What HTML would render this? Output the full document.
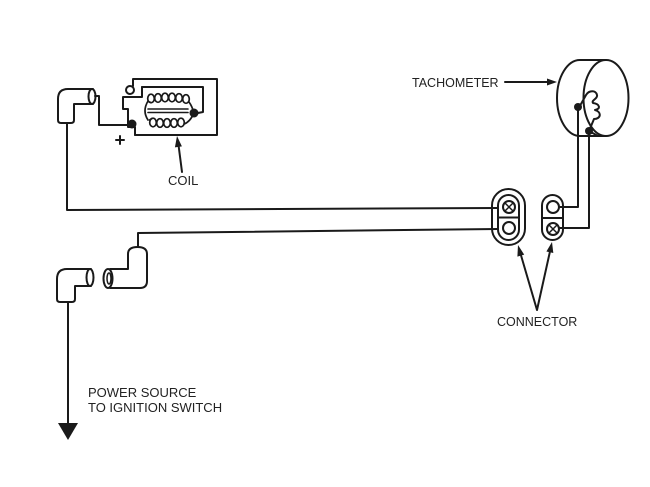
<!DOCTYPE html>
<html><head><meta charset="utf-8"><style>
html,body{margin:0;padding:0;background:#fff;}
svg{display:block;}
text{font-family:"Liberation Sans",sans-serif;fill:#222;}
</style></head><body>
<svg width="650" height="487" viewBox="0 0 650 487" xmlns="http://www.w3.org/2000/svg">
<rect width="650" height="487" fill="#fff"/>
<g fill="none" stroke="#1a1a1a" stroke-width="2" stroke-linejoin="round" stroke-linecap="round">
  <!-- top-left plug -->
  <path d="M93,89 L68,89 Q58,89 58,99 L58,120 Q58,123 61,123 L71,123 Q74,123 74,120 L74,104 L93,104"/>
  <ellipse cx="92" cy="96.5" rx="3.5" ry="7.5"/>
  <path d="M67,123 L67,210 L498,208"/>
  <path d="M95,96 L99,96 L99,125 L128,125"/>
  <!-- coil -->
  <path d="M133,86 L133,79 L217,79 L217,135 L135,135"/>
  <circle cx="130" cy="90" r="4"/>
  <path d="M142,87 L142,97 L123,97 L123,109 L128,109 L128,127 L135,127 L135,135"/>
  <path d="M142,87 L203,87 L203,112 L198,113"/>
  <g stroke-width="1.7">
    <ellipse cx="151" cy="98.5" rx="3.3" ry="4.3"/>
    <ellipse cx="158" cy="98" rx="3.3" ry="4.3"/>
    <ellipse cx="165" cy="97.5" rx="3.3" ry="4.3"/>
    <ellipse cx="172" cy="97.5" rx="3.3" ry="4.3"/>
    <ellipse cx="179" cy="98" rx="3.3" ry="4.3"/>
    <ellipse cx="186" cy="99" rx="3.3" ry="4.3"/>
    <ellipse cx="153" cy="122.5" rx="3.3" ry="4.3"/>
    <ellipse cx="160" cy="123" rx="3.3" ry="4.3"/>
    <ellipse cx="167" cy="123" rx="3.3" ry="4.3"/>
    <ellipse cx="174" cy="123" rx="3.3" ry="4.3"/>
    <ellipse cx="181" cy="122.5" rx="3.3" ry="4.3"/>
    <path d="M148,101 Q142,111 148,120 M189,102 Q192,106 194,113 M184,124 Q190,122 194,113"/>
    <path d="M148,101.5 L151,102.5 M149.5,120 L152,118.5"/>
  </g>
  <path d="M148,109 L188,109 M148,112.5 L188,112.5" stroke-width="1.6"/>
  <path d="M116,140 L124,140 M120,136 L120,144"/>
  <path d="M182,172 L178.5,145"/>
  <!-- lower wire & plugs -->
  <path d="M498,229 L138,233 L138,247"/>
  <path d="M110,269 L128,269 L128,254 Q128,247 137.5,247 Q147,247 147,254 L147,281 Q147,288 140,288 L110,288"/>
  <ellipse cx="108" cy="278.5" rx="4.5" ry="9.5"/>
  <ellipse cx="109" cy="278.5" rx="2" ry="5.5" stroke-width="1.5"/>
  <path d="M91,269 L67,269 Q57,269 57,279 L57,299 Q57,302 60,302 L72,302 Q75,302 75,299 L75,286 L91,286"/>
  <ellipse cx="90" cy="277.5" rx="3.5" ry="8.5"/>
  <path d="M68,302 L68,424"/>
  <!-- connectors -->
  <rect x="492" y="189" width="33" height="56" rx="16.5"/>
  <rect x="498" y="195" width="21" height="45" rx="10.5"/>
  <path d="M498,217.5 L519,217.5"/>
  <circle cx="509" cy="207" r="6"/>
  <path d="M505,203 L513,211 M513,203 L505,211" stroke-width="1.5"/>
  <circle cx="509" cy="228" r="6"/>
  <rect x="542" y="195" width="21" height="45" rx="10.5"/>
  <path d="M542,218 L563,218"/>
  <circle cx="553" cy="207" r="6"/>
  <circle cx="553" cy="229" r="6"/>
  <path d="M549,225 L557,233 M557,225 L549,233" stroke-width="1.5"/>
  <!-- tach wires -->
  <path d="M578,107 L578,207 L559,207"/>
  <path d="M589,131 L589,228 L559,228"/>
  <!-- tachometer -->
  <path d="M580,60 A23,38 0 0 0 580,136 M580,60 L606,60 M580,136 L606,136"/>
  <ellipse cx="606" cy="98" rx="22.5" ry="38"/>
  <path d="M581,104 L586,95 C589,90 596,90 597,95 C598,99 591,100 593,103 C600,104 601,109 595,110 C602,112 601,119 594,119 L589,131 L598,136"/>
  <path d="M505,82 L550,82"/>
  <!-- connector arrows -->
  <path d="M537,310 L520.8,254.6 M537,310 L549.9,251.8"/>
</g>
<g fill="#1a1a1a">
  <circle cx="132" cy="124" r="4.5"/>
  <circle cx="194" cy="113" r="4.5"/>
  <circle cx="578" cy="107" r="4"/>
  <circle cx="589" cy="131" r="4"/>
  <polygon points="177,136 181.9,146.4 174.9,147.4"/>
  <polygon points="557,82 547,78.5 547,85.5"/>
  <polygon points="518,245 524.2,254.6 517.4,256.6"/>
  <polygon points="552,242 553.3,253 546.4,251.5"/>
  <polygon points="58,423 78,423 68,440"/>
</g>
<text x="412" y="87" font-size="12.5">TACHOMETER</text>
<text x="168" y="185" font-size="13">COIL</text>
<text x="497" y="326" font-size="12.5">CONNECTOR</text>
<text x="88" y="397" font-size="13">POWER SOURCE</text>
<text x="88" y="412" font-size="13">TO IGNITION SWITCH</text>
</svg>
</body></html>
